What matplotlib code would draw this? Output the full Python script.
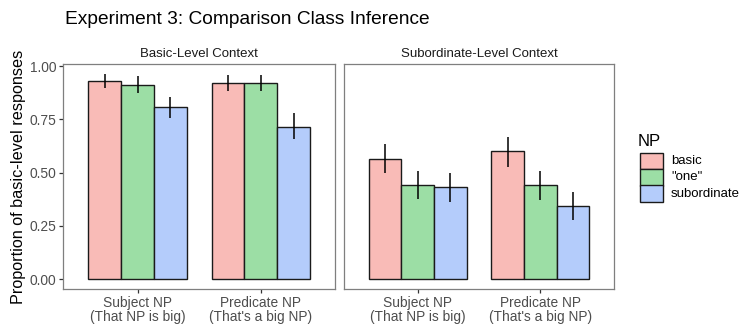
import matplotlib
matplotlib.use("Agg")
import matplotlib.pyplot as plt
from matplotlib.patches import Rectangle
import numpy as np

plt.rcParams['font.family'] = ['Liberation Sans', 'DejaVu Sans']

contexts = ["Basic-Level Context", "Subordinate-Level Context"]
positions = ["Subject NP\n(That NP is big)", "Predicate NP\n(That's a big NP)"]
np_types = ["basic", "\"one\"", "subordinate"]
colors = ["#F9BBB7", "#9CDEA5", "#B4CCFB"]

# means[context][np_type][position]
means = {
    "Basic-Level Context": {"basic": [0.930, 0.922], "\"one\"": [0.913, 0.920], "subordinate": [0.806, 0.716]},
    "Subordinate-Level Context": {"basic": [0.565, 0.600], "\"one\"": [0.443, 0.440], "subordinate": [0.434, 0.344]},
}
lower = {
    "Basic-Level Context": {"basic": [0.895, 0.885], "\"one\"": [0.875, 0.885], "subordinate": [0.755, 0.656]},
    "Subordinate-Level Context": {"basic": [0.497, 0.528], "\"one\"": [0.378, 0.372], "subordinate": [0.361, 0.279]},
}
upper = {
    "Basic-Level Context": {"basic": [0.965, 0.960], "\"one\"": [0.955, 0.960], "subordinate": [0.856, 0.778]},
    "Subordinate-Level Context": {"basic": [0.633, 0.669], "\"one\"": [0.509, 0.508], "subordinate": [0.500, 0.408]},
}

W, H = 740, 326
fig = plt.figure(figsize=(W / 100, H / 100), dpi=100)
axes_rects = [[0.0858, 0.1135, 0.3669, 0.6902], [0.4649, 0.1135, 0.3648, 0.6902]]
width = 0.8 / 3
x = np.arange(1, len(positions) + 1)
grey = "#4D4D4D"
for ci, ctx in enumerate(contexts):
    ax = fig.add_axes(axes_rects[ci])
    for k, npt in enumerate(np_types):
        xs = x + (k - 1) * width
        m = np.array(means[ctx][npt])
        lo = np.array(lower[ctx][npt])
        hi = np.array(upper[ctx][npt])
        ax.bar(xs, m, width=width, color=colors[k], edgecolor="#1a1a1a", linewidth=1.0, zorder=2)
        ax.vlines(xs, lo, hi, color="black", linewidth=1.1, zorder=3)
    ax.set_xlim(0.4, 2.6)
    ax.set_ylim(-0.046, 1.01)
    ax.set_xticks(x)
    ax.set_xticklabels(positions, fontsize=9.9, color=grey, linespacing=1.0)
    ax.set_yticks([0, 0.25, 0.5, 0.75, 1.0])
    if ci == 0:
        ax.set_yticklabels(["0.00", "0.25", "0.50", "0.75", "1.00"], fontsize=9.9, color=grey)
        ax.set_ylabel("Proportion of basic-level responses", fontsize=11.7, color="black", labelpad=3)
    else:
        ax.tick_params(axis='y', left=False, labelleft=False)
    for s in ax.spines.values():
        s.set_color("#7F7F7F")
        s.set_linewidth(0.9)
    ax.tick_params(axis='both', color="#333333", length=3, width=0.9, pad=2)
    ax.set_title(ctx, fontsize=9.5, color="#1a1a1a", pad=5)

fig.text(65 / W, 1 - 20 / H, "Experiment 3: Comparison Class Inference", fontsize=13.8, ha="left", va="center")

# legend (manual, in figure pixel coords converted to fractions)
fig.text(638 / W, 1 - 142 / H, "NP", fontsize=12, ha="left", va="center")
key_w, key_h = 22.5, 16.4
top0 = 152.7
for k in range(len(np_types)):
    y_top = top0 + k * key_h
    fig.patches.append(Rectangle((640 / W, 1 - (y_top + key_h) / H), key_w / W, key_h / H,
                                 transform=fig.transFigure, facecolor=colors[k],
                                 edgecolor="#1a1a1a", linewidth=1.0))
    fig.text(671 / W, 1 - (y_top + key_h / 2) / H, np_types[k], fontsize=9.5, ha="left", va="center")

fig.savefig("out.png", dpi=100)
